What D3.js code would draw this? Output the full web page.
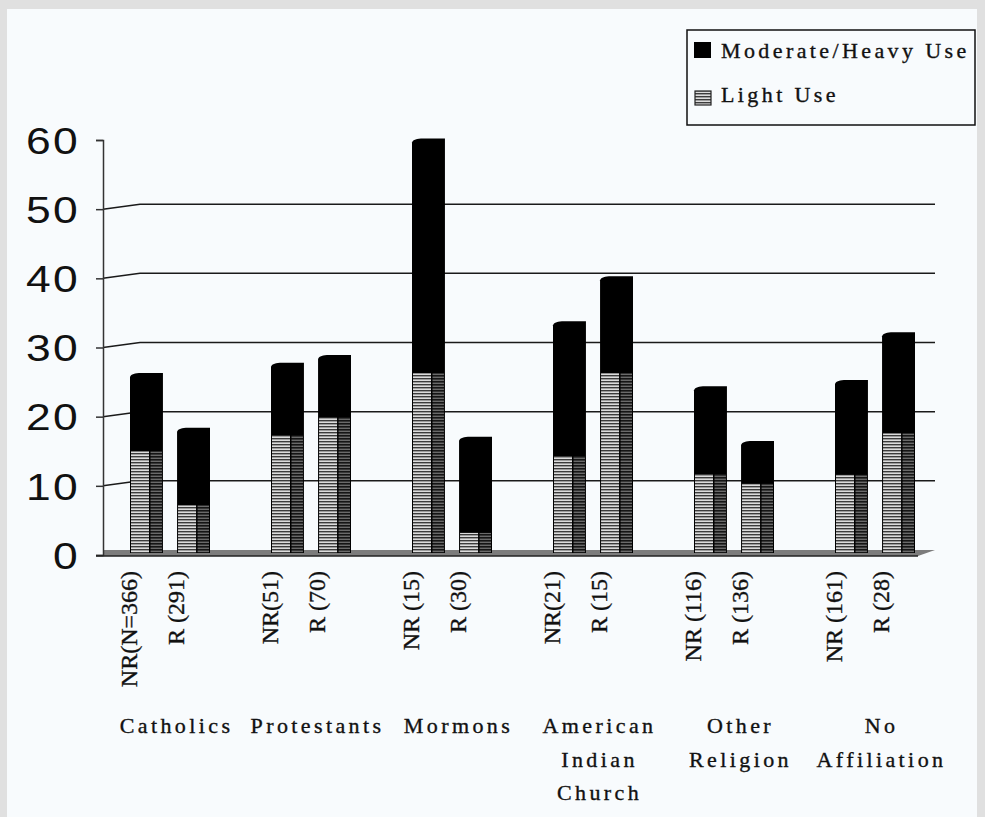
<!DOCTYPE html>
<html>
<head>
<meta charset="utf-8">
<script src="https://cdn.jsdelivr.net/npm/d3@7"></script>
<style>
  body { margin: 0; background: #e0e0e0; }
  svg { display: block; }
  .serif { font-family: 'Liberation Serif', 'Times New Roman', serif; fill: #111; stroke: #111; stroke-width: 0.35px; }
</style>
</head>
<body>
<script>
// data
let categories = ["Catholics", "Protestants", "Mormons", "American Indian Church", "Other Religion", "No Affiliation"];
let subgroups = ["NR", "R"];
let nrLabels = ["NR(N=366)", "NR(51)", "NR (15)", "NR(21)", "NR (116)", "NR (161)"];
let rLabels = ["R (291)", "R (70)", "R (30)", "R (15)", "R (136)", "R (28)"];
let lightNR = [15.0, 17.3, 26.3, 14.3, 11.7, 11.6];
let lightR = [7.2, 19.9, 3.2, 26.3, 10.3, 17.6];
let heavyNR = [11.3, 10.5, 33.9, 19.5, 12.7, 13.7];
let heavyR = [11.2, 9.0, 13.9, 14.0, 6.2, 14.6];
let yTicks = [0, 10, 20, 30, 40, 50, 60];
let legendLabels = ["Moderate/Heavy Use", "Light Use"];

let W = 985, H = 817;
let axisX = 103, gridEnd = 935;

let svg = d3.select("body").append("svg")
    .attr("width", W)
    .attr("height", H);

// outer frame + panel
svg.append("rect").attr("width", W).attr("height", H).attr("fill", "#e0e0e0");
svg.append("rect").attr("x", 7).attr("y", 9).attr("width", 970).attr("height", H - 9).attr("fill", "#f8fbfd");

// stripe patterns for light use
let defs = svg.append("defs");
let pf = defs.append("pattern").attr("id", "stripeFront")
    .attr("patternUnits", "userSpaceOnUse").attr("width", 4).attr("height", 3);
pf.append("rect").attr("width", 4).attr("height", 3).attr("fill", "#dcdcdc");
pf.append("rect").attr("width", 4).attr("height", 1.4).attr("fill", "#3c3c3c");
let ps = defs.append("pattern").attr("id", "stripeSide")
    .attr("patternUnits", "userSpaceOnUse").attr("width", 4).attr("height", 3);
ps.append("rect").attr("width", 4).attr("height", 3).attr("fill", "#6a6a6a");
ps.append("rect").attr("width", 4).attr("height", 1.6).attr("fill", "#151515");

let y = d3.scaleLinear().domain([0, 60]).range([555, 140]);
let x = d3.scaleBand().domain(categories).range([100, 946]);
let xSub = d3.scaleBand().domain(subgroups).range([30, 110]).paddingInner(0.3);

// back wall gridlines
svg.append("g")
  .selectAll("path")
  .data(yTicks.filter(t => t > 0 && t < 60))
  .enter().append("path")
    .attr("d", t => "M" + axisX + "," + y(t) + "L140," + (y(t) - 5) + "H" + gridEnd)
    .attr("fill", "none")
    .attr("stroke", "#1a1a1a")
    .attr("stroke-width", 1.5);

// floor
svg.append("path")
    .attr("d", "M" + axisX + ",550H" + gridEnd + "L918,556H" + axisX + "Z")
    .attr("fill", "#7c7c7c");

// Y axis
let yAxis = svg.append("g")
    .attr("transform", "translate(" + axisX + ",0)")
    .call(d3.axisLeft(y).tickValues(yTicks).tickSize(7).tickFormat(d3.format("d")));
yAxis.select(".domain").attr("stroke", "#333").attr("stroke-width", 1.5);
yAxis.selectAll(".tick line").attr("stroke", "#333").attr("stroke-width", 1.5);
yAxis.selectAll(".tick text")
    .attr("x", -19)
    .attr("dy", "0.36em")
    .attr("transform", "scale(1.2,1)")
    .attr("fill", "#111")
    .style("font-family", "'Liberation Sans', Arial, sans-serif")
    .style("font-size", "37px")
    .style("letter-spacing", "2px");

// baseline
svg.append("line")
    .attr("x1", 96).attr("x2", 918)
    .attr("y1", 556).attr("y2", 556)
    .attr("stroke", "#222").attr("stroke-width", 1.5);

// flatten to one row per bar
let bars = [];
categories.forEach(function(c, i) {
  bars.push({cat: c, key: "NR", light: lightNR[i], heavy: heavyNR[i], label: nrLabels[i]});
  bars.push({cat: c, key: "R", light: lightR[i], heavy: heavyR[i], label: rLabels[i]});
});

let bw = xSub.bandwidth();
let fw = Math.round(bw * 0.58);
let base = 553;

let g = svg.append("g").selectAll("g")
  .data(bars)
  .enter().append("g")
    .attr("transform", d => "translate(" + (x(d.cat) + xSub(d.key)) + ",0)");

// whole column in black with a slightly rounded top
g.append("path")
    .attr("d", function(d) {
      let t = y(d.light + d.heavy);
      return "M0," + (t + 4) + "C1," + (t + 1) + " 5," + t + " 11," + t +
             "H" + bw + "V" + base + "H0Z";
    })
    .attr("fill", "#000");

// light use, front face
g.append("rect")
    .attr("x", 1)
    .attr("y", d => y(d.light))
    .attr("width", fw - 1)
    .attr("height", d => base - y(d.light))
    .attr("fill", "url(#stripeFront)");

// light use, side face
g.append("rect")
    .attr("x", fw + 1.5)
    .attr("y", d => y(d.light))
    .attr("width", bw - fw - 2.5)
    .attr("height", d => base - y(d.light))
    .attr("fill", "url(#stripeSide)");

// rotated bar labels
g.append("text")
    .attr("class", "serif")
    .attr("transform", "translate(-1,571) rotate(-90)")
    .attr("dy", "0.35em")
    .attr("text-anchor", "end")
    .style("font-size", "24px")
    .text(d => d.label);

// category labels
svg.append("g").selectAll("text")
  .data(categories)
  .enter().append("text")
    .attr("class", "serif")
    .attr("x", d => x(d) + x.bandwidth() / 2 + 6)
    .attr("y", 733)
    .attr("text-anchor", "middle")
    .style("font-size", "22px")
    .style("letter-spacing", "3.4px")
  .selectAll("tspan")
  .data(d => d.split(" "))
  .enter().append("tspan")
    .attr("x", function() { return d3.select(this.parentNode).attr("x"); })
    .attr("dy", (d, i) => i === 0 ? 0 : 33.5)
    .text(d => d);

// legend
let legend = svg.append("g");
legend.append("rect")
    .attr("x", 687).attr("y", 30)
    .attr("width", 288).attr("height", 95)
    .attr("fill", "none")
    .attr("stroke", "#111")
    .attr("stroke-width", 1.5);
legend.append("rect")
    .attr("x", 694).attr("y", 42).attr("width", 17).attr("height", 16)
    .attr("fill", "#000");
legend.append("rect")
    .attr("x", 695).attr("y", 91).attr("width", 16).attr("height", 14)
    .attr("fill", "url(#stripeFront)")
    .attr("stroke", "#222").attr("stroke-width", 1.2);
legend.selectAll("text")
  .data(legendLabels)
  .enter().append("text")
    .attr("class", "serif")
    .attr("x", 721)
    .attr("y", (d, i) => 58 + i * 44)
    .style("font-size", "22px")
    .style("letter-spacing", "3.4px")
    .text(d => d);
</script>
</body>
</html>
